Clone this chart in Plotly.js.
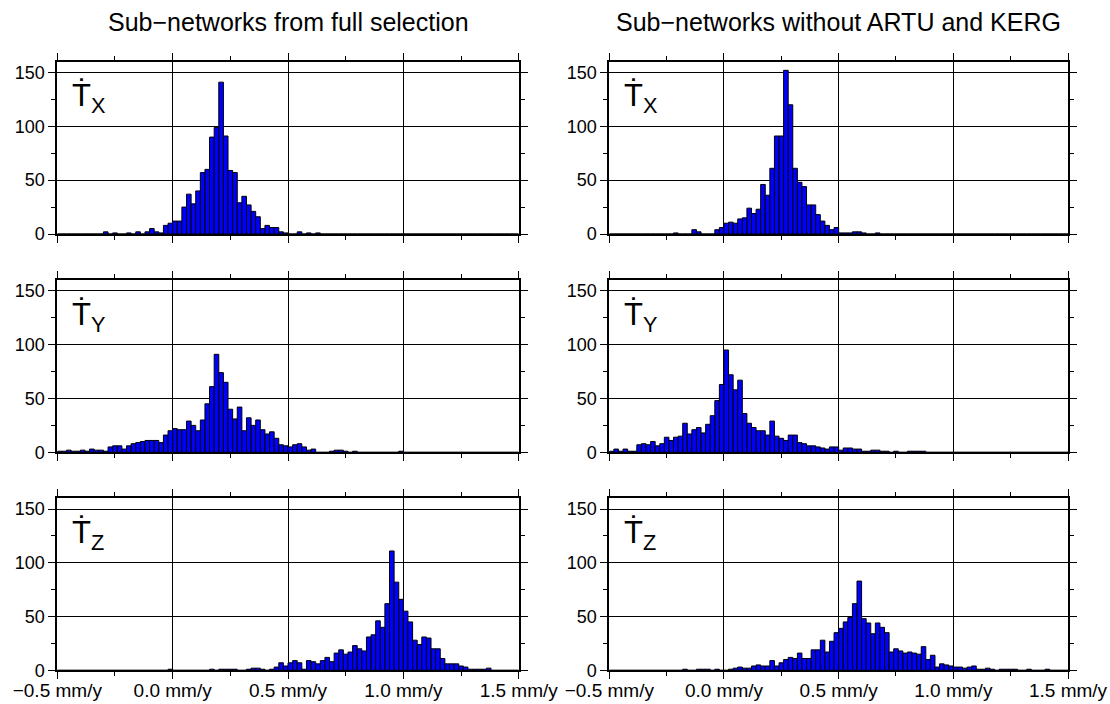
<!DOCTYPE html>
<html><head><meta charset="utf-8">
<script src="https://cdn.plot.ly/plotly-3.0.1.min.js"></script>
<style>html,body{margin:0;padding:0;background:#fff}#plot{width:1110px;height:704px}</style>
</head><body><div id="plot"></div><script>
// Histogram bins: 100 bins of 0.02 mm/y from -0.5 to 1.5 mm/y
const binStart = -0.5;
const binWidth = 0.02;

const txFull = [
 0,0,0,0,0,0,0,0,0,0,
 2,0,1,0,0,1,0,2,0,2,
 5,2,1,8,10,12,12,25,37,28,
 40,57,60,90,99,141,91,59,57,29,
 35,27,21,16,5,8,6,6,2,1,
 0,0,2,0,1,0,1,0,0,0,
 0,0,0,0,0,0,0,0,0,0,
 0,0,0,0,0,0,0,0,0,0,
 0,0,0,0,0,0,0,0,0,0,
 0,0,0,0,0,0,0,0,0,0];
const txSub = [
 0,0,0,0,0,0,0,0,0,0,
 0,0,0,0,1,0,0,0,4,2,
 0,0,0,4,6,10,11,10,14,15,
 24,19,23,46,36,61,91,91,152,120,
 61,48,44,27,27,18,12,8,4,6,
 1,1,1,2,2,1,0,0,1,0,
 0,0,0,0,0,0,0,0,0,0,
 0,0,0,0,0,0,0,0,0,0,
 0,0,0,0,0,0,0,0,0,0,
 0,0,0,0,0,0,0,0,0,0];
const tyFull = [
 1,1,2,1,1,2,1,3,2,2,
 1,5,6,6,3,6,8,9,10,11,
 11,11,9,16,20,22,21,21,29,25,
 20,30,45,61,91,74,65,40,31,42,
 20,32,25,30,21,17,19,13,7,6,
 5,7,8,5,2,3,0,0,0,1,
 2,2,1,0,1,0,0,0,0,0,
 0,0,0,0,1,0,0,0,0,0,
 0,0,0,0,0,0,0,0,0,0,
 0,0,0,0,0,0,0,0,0,0];
const tySub = [
 1,3,1,3,1,1,7,8,7,10,
 6,8,14,11,14,15,27,17,21,23,
 18,26,34,48,63,95,72,58,67,36,
 27,23,20,20,16,29,15,13,11,16,
 16,9,8,6,6,5,4,3,5,5,
 2,4,4,3,3,1,1,2,2,1,
 1,0,1,0,0,1,1,1,1,0,
 0,0,0,0,0,0,0,0,0,0,
 0,0,0,0,0,0,0,0,0,0,
 0,0,0,0,0,0,0,0,0,0];
const tzFull = [
 0,0,0,0,0,0,0,0,0,0,
 0,0,0,0,0,0,0,0,0,0,
 0,0,0,0,1,0,0,0,0,0,
 0,0,0,1,0,1,1,1,1,0,
 0,1,2,2,1,0,1,3,7,4,
 7,9,7,1,9,8,6,9,12,8,
 16,19,15,17,23,20,18,31,33,46,
 40,62,111,82,66,55,45,28,24,31,
 30,20,20,11,6,6,6,4,3,1,
 1,1,1,2,0,0,0,0,0,0];
const tzSub = [
 0,0,0,0,0,0,0,0,0,0,
 0,0,0,0,0,0,1,0,0,1,
 1,1,0,1,0,0,1,2,3,2,
 2,4,5,4,4,9,4,7,10,12,
 11,16,11,11,19,19,28,17,27,35,
 39,45,49,62,83,48,44,34,44,40,
 35,17,20,18,16,17,16,15,22,10,
 14,3,6,5,4,3,3,2,3,4,
 1,1,2,1,0,1,1,1,1,0,
 0,1,0,0,0,1,0,0,0,0];

const xTickVals = [-0.5, 0.0, 0.5, 1.0, 1.5];
const xTickText = ['\u22120.5 mm/y', '0.0 mm/y', '0.5 mm/y', '1.0 mm/y', '1.5 mm/y'];
const yTickVals = [0, 50, 100, 150];
const yTickText = ['0', '50', '100', '150'];
const columnTitles = ['Sub\u2212networks from full selection', 'Sub\u2212networks without ARTU and KERG'];
const componentLabels = ['X', 'Y', 'Z'];

const panels = [txFull, txSub, tyFull, tySub, tzFull, tzSub];

const W = 1110, H = 704;
const colPx = [[57.3, 518.7], [609.3, 1068]];
const rowPx = [[61.7, 234], [280, 452.3], [498.3, 670.3]];
const FONT = 'Liberation Sans, Arial, Helvetica, sans-serif';

const binCenters = txFull.map((_, i) => binStart + (i + 0.5) * binWidth);

const data = [];
const layout = {
  width: W, height: H,
  margin: {l: 0, r: 0, t: 0, b: 0},
  paper_bgcolor: '#fff', plot_bgcolor: '#fff',
  showlegend: false,
  bargap: 0,
  font: {family: FONT, color: '#000', size: 18},
  annotations: []
};

panels.forEach((counts, i) => {
  const n = i + 1;
  const row = Math.floor(i / 2), col = i % 2;
  const xa = 'xaxis' + (n === 1 ? '' : n), ya = 'yaxis' + (n === 1 ? '' : n);
  const xr = 'x' + (n === 1 ? '' : n), yr = 'y' + (n === 1 ? '' : n);
  data.push({
    type: 'bar', x: binCenters, y: counts, width: binWidth,
    xaxis: xr, yaxis: yr,
    marker: {color: '#0000ff', line: {color: '#000', width: 1}},
    hoverinfo: 'skip'
  });
  layout[xa] = {
    domain: [colPx[col][0] / W, colPx[col][1] / W],
    anchor: yr,
    range: [-0.5, 1.5],
    tickmode: 'array', tickvals: xTickVals, ticktext: xTickText,
    showticklabels: row === 2,
    ticks: 'outside', ticklen: 7, tickwidth: 1, tickcolor: '#000',
    minor: {tickmode: 'linear', tick0: -0.5, dtick: 0.25, ticks: 'outside', ticklen: 4, tickwidth: 1, tickcolor: '#000', showgrid: false},
    showgrid: true, gridcolor: '#000', gridwidth: 1,
    showline: true, linecolor: '#000', linewidth: 2, mirror: 'ticks',
    zeroline: false, fixedrange: true,
    ticklabelstandoff: -5,
    tickfont: {family: FONT, size: 19, color: '#000'}
  };
  layout[ya] = {
    domain: [1 - rowPx[row][1] / H, 1 - rowPx[row][0] / H],
    anchor: xr,
    range: [0, 160],
    tickmode: 'array', tickvals: yTickVals, ticktext: yTickText,
    ticks: 'outside', ticklen: 7, tickwidth: 1, tickcolor: '#000',
    minor: {tickmode: 'linear', tick0: 0, dtick: 25, ticks: 'outside', ticklen: 4, tickwidth: 1, tickcolor: '#000', showgrid: false},
    showgrid: true, gridcolor: '#000', gridwidth: 1,
    showline: true, linecolor: '#000', linewidth: 2, mirror: 'ticks',
    zeroline: false, fixedrange: true,
    tickfont: {family: FONT, size: 18, color: '#000'}
  };
  layout.annotations.push({
    text: '\u1E6A<sub>' + componentLabels[row] + '</sub>',
    xref: xr + ' domain', yref: yr + ' domain',
    x: 0.028, y: 0.915, xanchor: 'left', yanchor: 'top',
    showarrow: false,
    font: {family: FONT, size: 31, color: '#000'}
  });
});

columnTitles.forEach((t, c) => {
  layout.annotations.push({
    text: t, xref: 'paper', yref: 'paper',
    x: (colPx[c][0] + colPx[c][1]) / 2 / W, y: 1 - 22 / H,
    xanchor: 'center', yanchor: 'middle', showarrow: false,
    font: {family: FONT, size: 25, color: '#000'}
  });
});

Plotly.newPlot('plot', data, layout, {staticPlot: true, displayModeBar: false});
</script></body></html>
